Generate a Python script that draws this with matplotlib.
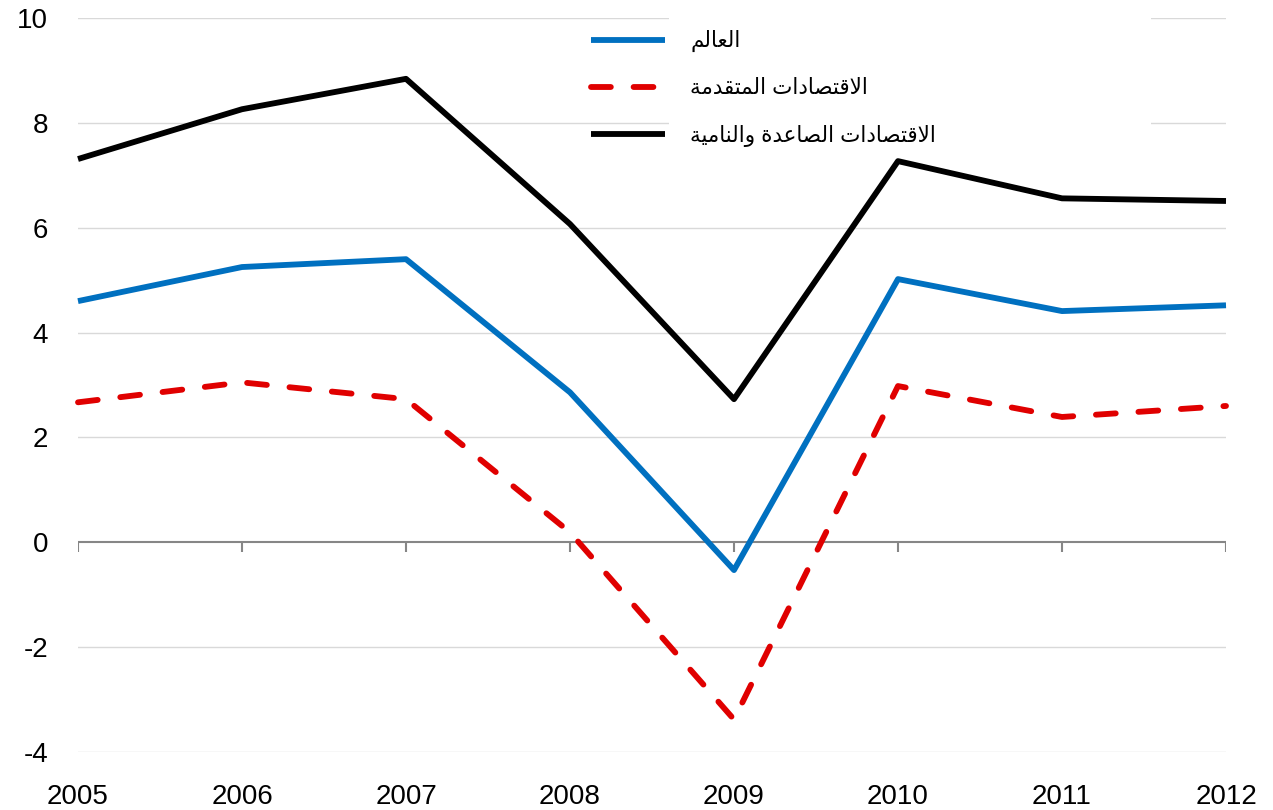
import matplotlib
matplotlib.use("Agg")
import matplotlib.pyplot as plt
from matplotlib.patches import Rectangle

plt.rcParams['font.family'] = ['Liberation Sans', 'DejaVu Sans']

# --- data ---
years = [2005, 2006, 2007, 2008, 2009, 2010, 2011, 2012]
world = [4.6, 5.25, 5.4, 2.86, -0.53, 5.02, 4.41, 4.52]
advanced = [2.67, 3.05, 2.73, 0.19, -3.38, 2.98, 2.39, 2.60]
emerging = [7.31, 8.26, 8.84, 6.07, 2.73, 7.27, 6.56, 6.51]

label_world = "العالم"
label_advanced = "الاقتصادات المتقدمة"
label_emerging = "الاقتصادات الصاعدة والنامية"

y_ticks = [-4, -2, 0, 2, 4, 6, 8, 10]

# matplotlib does no Arabic shaping, so pick the presentation forms by hand
# (isolated, final, initial, medial)
FORMS = {
    'ا': ('\uFE8D', '\uFE8E', None, None),
    'د': ('\uFEA9', '\uFEAA', None, None),
    'ة': ('\uFE93', '\uFE94', None, None),
    'و': ('\uFEED', '\uFEEE', None, None),
    'ل': ('\uFEDD', '\uFEDE', '\uFEDF', '\uFEE0'),
    'ع': ('\uFEC9', '\uFECA', '\uFECB', '\uFECC'),
    'م': ('\uFEE1', '\uFEE2', '\uFEE3', '\uFEE4'),
    'ق': ('\uFED5', '\uFED6', '\uFED7', '\uFED8'),
    'ت': ('\uFE95', '\uFE96', '\uFE97', '\uFE98'),
    'ص': ('\uFEB9', '\uFEBA', '\uFEBB', '\uFEBC'),
    'ن': ('\uFEE5', '\uFEE6', '\uFEE7', '\uFEE8'),
    'ي': ('\uFEF1', '\uFEF2', '\uFEF3', '\uFEF4'),
}


def shape_arabic(text):
    chars = []
    i = 0
    while i < len(text):
        if text[i] == 'ل' and i + 1 < len(text) and text[i + 1] == 'ا':
            chars.append('LA')
            i += 2
        else:
            chars.append(text[i])
            i += 1
    out = []
    for k, c in enumerate(chars):
        prev = chars[k - 1] if k > 0 else None
        nxt = chars[k + 1] if k + 1 < len(chars) else None
        joins_prev = prev in FORMS and FORMS[prev][2] is not None
        if c == 'LA':
            out.append('\uFEFC' if joins_prev else '\uFEFB')
            continue
        if c not in FORMS:
            out.append(c)
            continue
        iso, fin, ini, med = FORMS[c]
        joins_next = ini is not None and (nxt in FORMS or nxt == 'LA')
        if joins_prev and joins_next:
            out.append(med)
        elif joins_prev:
            out.append(fin)
        elif joins_next:
            out.append(ini)
        else:
            out.append(iso)
    return ''.join(reversed(out))


fig = plt.figure(figsize=(12.73, 8.10), dpi=100)
ax = fig.add_axes([78 / 1273, 58 / 810, 1148 / 1273, 734 / 810])

ax.set_xlim(years[0], years[-1])
ax.set_ylim(y_ticks[0], y_ticks[-1])

for y in y_ticks:
    if y != 0:
        ax.axhline(y, color='#d9d9d9', lw=1.0, zorder=1)
ax.axhline(0, color='#868686', lw=1.5, zorder=2)
ax.vlines(years, -0.19, 0, color='#868686', lw=1.5, zorder=2)

lw = 4.2
ax.plot(years, world, color='#0070C0', lw=lw, solid_capstyle='butt',
        label=shape_arabic(label_world), zorder=5, clip_on=False)
ax.plot(years, advanced, color='#E00000', lw=lw, dashes=(3.4, 3.9),
        dash_capstyle='round', label=shape_arabic(label_advanced), zorder=5, clip_on=False)
ax.plot(years, emerging, color='black', lw=lw, solid_capstyle='butt',
        label=shape_arabic(label_emerging), zorder=5, clip_on=False)

for s in ax.spines.values():
    s.set_visible(False)

ax.set_yticks(y_ticks)
ax.set_yticklabels([str(v) for v in y_ticks])
ax.set_xticks(years)
ax.set_xticklabels([str(v) for v in years])
ax.tick_params(axis='y', length=0, pad=21.5, labelsize=20)
ax.tick_params(axis='x', length=0, pad=23, labelsize=20)

# white box behind the legend text, as in the original
ax.add_patch(Rectangle((0.515, 0.80), 0.42, 0.22, transform=ax.transAxes,
                       facecolor='white', edgecolor='none', zorder=3, clip_on=False))

leg = ax.legend(loc='upper left', bbox_to_anchor=(0.4397, 0.995), frameon=False,
                fontsize=15.5, handlelength=3.4, handletextpad=1.2,
                labelspacing=1.2, borderaxespad=0)
leg.set_zorder(6)

fig.savefig('out.png', dpi=100)
